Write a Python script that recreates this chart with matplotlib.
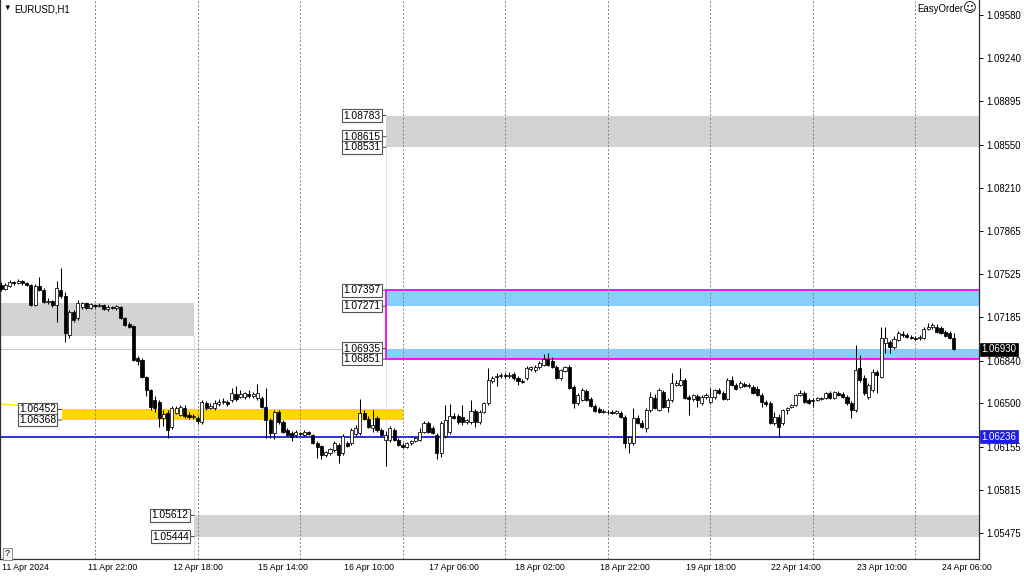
import matplotlib
matplotlib.use("Agg")
import matplotlib.pyplot as plt
import matplotlib.transforms as mtransforms
from matplotlib.patches import Rectangle

# EURUSD H1 bars, 11 Apr 2024 02:00 ... 24 Apr 2024 09:00 (one entry per bar)
opens = [
    1.07439, 1.07407, 1.07431, 1.07463, 1.07455, 1.07471, 1.07455, 1.07439, 1.07280, 1.07431,
    1.07399, 1.07304, 1.07312, 1.07280, 1.07399, 1.07352, 1.07042, 1.07225, 1.07177, 1.07264,
    1.07296, 1.07257, 1.07280, 1.07272, 1.07280, 1.07249, 1.07264, 1.07257, 1.07264, 1.07177,
    1.07130, 1.07114, 1.06860, 1.06844, 1.06709, 1.06606, 1.06527, 1.06511, 1.06384, 1.06424,
    1.06313, 1.06424, 1.06408, 1.06464, 1.06408, 1.06392, 1.06384, 1.06352, 1.06503, 1.06464,
    1.06464, 1.06495, 1.06511, 1.06511, 1.06527, 1.06575, 1.06551, 1.06551, 1.06575, 1.06559,
    1.06543, 1.06543, 1.06471, 1.06368, 1.06265, 1.06432, 1.06352, 1.06289, 1.06265, 1.06249,
    1.06265, 1.06249, 1.06273, 1.06249, 1.06186, 1.06162, 1.06091, 1.06107, 1.06130, 1.06170,
    1.06107, 1.06186, 1.06186, 1.06257, 1.06265, 1.06424, 1.06376, 1.06305, 1.06384, 1.06289,
    1.06210, 1.06210, 1.06289, 1.06210, 1.06170, 1.06154, 1.06186, 1.06202, 1.06210, 1.06273,
    1.06345, 1.06305, 1.06249, 1.06107, 1.06241, 1.06273, 1.06400, 1.06400, 1.06392, 1.06352,
    1.06352, 1.06440, 1.06352, 1.06432, 1.06503, 1.06678, 1.06709, 1.06717, 1.06725, 1.06717,
    1.06733, 1.06701, 1.06678, 1.06701, 1.06773, 1.06765, 1.06789, 1.06805, 1.06852, 1.06836,
    1.06789, 1.06701, 1.06757, 1.06789, 1.06630, 1.06503, 1.06527, 1.06598, 1.06535, 1.06479,
    1.06456, 1.06440, 1.06432, 1.06432, 1.06424, 1.06424, 1.06392, 1.06186, 1.06186, 1.06384,
    1.06345, 1.06305, 1.06448, 1.06543, 1.06448, 1.06590, 1.06471, 1.06527, 1.06646, 1.06646,
    1.06686, 1.06551, 1.06535, 1.06559, 1.06503, 1.06551, 1.06511, 1.06551, 1.06606, 1.06583,
    1.06535, 1.06686, 1.06646, 1.06630, 1.06654, 1.06638, 1.06630, 1.06614, 1.06567, 1.06511,
    1.06503, 1.06345, 1.06392, 1.06345, 1.06448, 1.06471, 1.06487, 1.06567, 1.06583, 1.06527,
    1.06527, 1.06527, 1.06535, 1.06543, 1.06583, 1.06543, 1.06583, 1.06575, 1.06551, 1.06503,
    1.06448, 1.06781, 1.06701, 1.06551, 1.06606, 1.06749, 1.06709, 1.06979, 1.06987, 1.06947,
    1.07003, 1.07050, 1.07042, 1.07027, 1.07019, 1.07019,
    1.07019, 1.07090, 1.07106, 1.07106, 1.07098, 1.07066, 1.07058, 1.07019,
]
highs = [
    1.07463, 1.07455, 1.07479, 1.07471, 1.07487, 1.07479, 1.07463, 1.07447, 1.07447, 1.07502,
    1.07415, 1.07336, 1.07320, 1.07471, 1.07574, 1.07383, 1.07241, 1.07241, 1.07320, 1.07304,
    1.07304, 1.07296, 1.07288, 1.07296, 1.07288, 1.07280, 1.07272, 1.07280, 1.07272, 1.07185,
    1.07146, 1.07122, 1.06876, 1.06860, 1.06717, 1.06614, 1.06559, 1.06527, 1.06448, 1.06448,
    1.06479, 1.06479, 1.06487, 1.06487, 1.06432, 1.06416, 1.06400, 1.06527, 1.06519, 1.06503,
    1.06527, 1.06535, 1.06543, 1.06527, 1.06622, 1.06638, 1.06606, 1.06590, 1.06606, 1.06590,
    1.06654, 1.06559, 1.06622, 1.06384, 1.06448, 1.06448, 1.06368, 1.06305, 1.06281, 1.06289,
    1.06273, 1.06289, 1.06281, 1.06257, 1.06202, 1.06170, 1.06123, 1.06146, 1.06202, 1.06186,
    1.06257, 1.06202, 1.06305, 1.06329, 1.06535, 1.06448, 1.06400, 1.06448, 1.06400, 1.06305,
    1.06281, 1.06321, 1.06305, 1.06226, 1.06186, 1.06194, 1.06210, 1.06234, 1.06305, 1.06360,
    1.06360, 1.06321, 1.06265, 1.06360, 1.06487, 1.06495, 1.06424, 1.06416, 1.06487, 1.06376,
    1.06527, 1.06456, 1.06448, 1.06511, 1.06781, 1.06717, 1.06741, 1.06741, 1.06741, 1.06749,
    1.06749, 1.06717, 1.06694, 1.06797, 1.06797, 1.06805, 1.06836, 1.06892, 1.06900, 1.06868,
    1.06805, 1.06773, 1.06797, 1.06805, 1.06646, 1.06583, 1.06622, 1.06614, 1.06551, 1.06495,
    1.06471, 1.06456, 1.06448, 1.06448, 1.06448, 1.06440, 1.06408, 1.06241, 1.06464, 1.06408,
    1.06368, 1.06464, 1.06590, 1.06575, 1.06622, 1.06606, 1.06543, 1.06741, 1.06686, 1.06781,
    1.06701, 1.06567, 1.06575, 1.06575, 1.06567, 1.06583, 1.06622, 1.06614, 1.06622, 1.06598,
    1.06701, 1.06717, 1.06662, 1.06678, 1.06670, 1.06662, 1.06646, 1.06638, 1.06583, 1.06527,
    1.06519, 1.06432, 1.06416, 1.06456, 1.06471, 1.06495, 1.06575, 1.06606, 1.06598, 1.06543,
    1.06543, 1.06551, 1.06551, 1.06590, 1.06598, 1.06598, 1.06598, 1.06590, 1.06567, 1.06519,
    1.06963, 1.06884, 1.06725, 1.06662, 1.06773, 1.06765, 1.07106, 1.07106, 1.07003, 1.07034,
    1.07074, 1.07074, 1.07058, 1.07042, 1.07034, 1.07042,
    1.07106, 1.07138, 1.07138, 1.07130, 1.07114, 1.07082, 1.07074, 1.07058,
]
lows = [
    1.07391, 1.07399, 1.07423, 1.07439, 1.07447, 1.07439, 1.07431, 1.07272, 1.07272, 1.07391,
    1.07296, 1.07288, 1.07264, 1.07146, 1.07336, 1.06987, 1.07019, 1.07146, 1.07161, 1.07249,
    1.07249, 1.07249, 1.07257, 1.07264, 1.07241, 1.07233, 1.07249, 1.07241, 1.07169, 1.07114,
    1.07098, 1.06836, 1.06805, 1.06701, 1.06559, 1.06448, 1.06432, 1.06313, 1.06321, 1.06226,
    1.06297, 1.06416, 1.06400, 1.06384, 1.06376, 1.06376, 1.06337, 1.06337, 1.06448, 1.06456,
    1.06448, 1.06479, 1.06495, 1.06479, 1.06511, 1.06519, 1.06543, 1.06535, 1.06543, 1.06543,
    1.06527, 1.06464, 1.06226, 1.06226, 1.06218, 1.06337, 1.06265, 1.06241, 1.06202, 1.06234,
    1.06241, 1.06241, 1.06249, 1.06178, 1.06067, 1.06059, 1.06075, 1.06091, 1.06115, 1.06027,
    1.06091, 1.06154, 1.06170, 1.06241, 1.06249, 1.06368, 1.06305, 1.06273, 1.06273, 1.06241,
    1.06004, 1.06194, 1.06202, 1.06162, 1.06146, 1.06146, 1.06170, 1.06194, 1.06202, 1.06265,
    1.06265, 1.06257, 1.06059, 1.06075, 1.06226, 1.06257, 1.06376, 1.06337, 1.06329, 1.06337,
    1.06337, 1.06313, 1.06337, 1.06424, 1.06487, 1.06662, 1.06638, 1.06701, 1.06701, 1.06701,
    1.06686, 1.06646, 1.06662, 1.06686, 1.06757, 1.06749, 1.06773, 1.06797, 1.06797, 1.06781,
    1.06694, 1.06686, 1.06749, 1.06614, 1.06464, 1.06487, 1.06519, 1.06519, 1.06471, 1.06432,
    1.06424, 1.06424, 1.06416, 1.06416, 1.06416, 1.06384, 1.06146, 1.06107, 1.06170, 1.06337,
    1.06305, 1.06273, 1.06432, 1.06456, 1.06440, 1.06464, 1.06432, 1.06511, 1.06638, 1.06638,
    1.06535, 1.06408, 1.06519, 1.06471, 1.06487, 1.06535, 1.06495, 1.06535, 1.06575, 1.06527,
    1.06527, 1.06638, 1.06606, 1.06622, 1.06630, 1.06622, 1.06575, 1.06559, 1.06471, 1.06479,
    1.06337, 1.06329, 1.06234, 1.06329, 1.06416, 1.06464, 1.06479, 1.06559, 1.06503, 1.06495,
    1.06471, 1.06519, 1.06527, 1.06535, 1.06535, 1.06535, 1.06559, 1.06543, 1.06487, 1.06384,
    1.06432, 1.06670, 1.06567, 1.06535, 1.06590, 1.06583, 1.06701, 1.06900, 1.06900, 1.06931,
    1.06995, 1.07027, 1.07019, 1.07011, 1.07003, 1.07003,
    1.07011, 1.07082, 1.07090, 1.07058, 1.07050, 1.07027, 1.07011, 1.06923,
]
closes = [
    1.07407, 1.07439, 1.07463, 1.07455, 1.07471, 1.07455, 1.07439, 1.07280, 1.07431, 1.07399,
    1.07304, 1.07312, 1.07280, 1.07415, 1.07352, 1.07058, 1.07225, 1.07161, 1.07296, 1.07296,
    1.07257, 1.07288, 1.07272, 1.07280, 1.07249, 1.07264, 1.07257, 1.07272, 1.07177, 1.07122,
    1.07106, 1.06844, 1.06836, 1.06709, 1.06606, 1.06471, 1.06464, 1.06384, 1.06416, 1.06289,
    1.06464, 1.06464, 1.06471, 1.06400, 1.06392, 1.06400, 1.06360, 1.06511, 1.06464, 1.06479,
    1.06503, 1.06511, 1.06519, 1.06495, 1.06583, 1.06535, 1.06575, 1.06583, 1.06559, 1.06575,
    1.06583, 1.06471, 1.06368, 1.06265, 1.06432, 1.06352, 1.06273, 1.06249, 1.06234, 1.06273,
    1.06257, 1.06273, 1.06257, 1.06186, 1.06154, 1.06091, 1.06115, 1.06138, 1.06186, 1.06091,
    1.06241, 1.06162, 1.06289, 1.06305, 1.06424, 1.06376, 1.06313, 1.06329, 1.06289, 1.06249,
    1.06249, 1.06305, 1.06210, 1.06170, 1.06154, 1.06186, 1.06202, 1.06226, 1.06273, 1.06345,
    1.06273, 1.06265, 1.06107, 1.06345, 1.06368, 1.06400, 1.06384, 1.06352, 1.06352, 1.06368,
    1.06440, 1.06352, 1.06432, 1.06503, 1.06686, 1.06701, 1.06717, 1.06725, 1.06717, 1.06725,
    1.06701, 1.06678, 1.06670, 1.06781, 1.06789, 1.06789, 1.06820, 1.06852, 1.06805, 1.06789,
    1.06701, 1.06765, 1.06789, 1.06622, 1.06503, 1.06567, 1.06606, 1.06527, 1.06479, 1.06440,
    1.06432, 1.06432, 1.06428, 1.06424, 1.06440, 1.06392, 1.06186, 1.06234, 1.06384, 1.06345,
    1.06313, 1.06448, 1.06551, 1.06464, 1.06606, 1.06471, 1.06527, 1.06662, 1.06662, 1.06686,
    1.06543, 1.06535, 1.06567, 1.06527, 1.06551, 1.06567, 1.06551, 1.06606, 1.06583, 1.06535,
    1.06686, 1.06646, 1.06614, 1.06662, 1.06638, 1.06646, 1.06583, 1.06567, 1.06511, 1.06495,
    1.06345, 1.06392, 1.06313, 1.06448, 1.06464, 1.06487, 1.06567, 1.06583, 1.06511, 1.06503,
    1.06519, 1.06543, 1.06539, 1.06583, 1.06543, 1.06590, 1.06567, 1.06551, 1.06503, 1.06448,
    1.06765, 1.06686, 1.06583, 1.06646, 1.06749, 1.06725, 1.07019, 1.07019, 1.06947, 1.07011,
    1.07058, 1.07042, 1.07027, 1.07019, 1.07011, 1.07027,
    1.07090, 1.07106, 1.07122, 1.07066, 1.07058, 1.07034, 1.07019, 1.06930,
]

price_ticks = [1.09580, 1.09240, 1.08895, 1.08550, 1.08210, 1.07865, 1.07525,
               1.07185, 1.06840, 1.06500, 1.06155, 1.05815, 1.05475]
time_labels = ["11 Apr 2024", "11 Apr 22:00", "12 Apr 18:00", "15 Apr 14:00",
               "16 Apr 10:00", "17 Apr 06:00", "18 Apr 02:00", "18 Apr 22:00",
               "19 Apr 18:00", "22 Apr 14:00", "23 Apr 10:00", "24 Apr 06:00"]
time_label_bars = [0, 20, 40, 60, 80, 100, 120, 140, 160, 180, 200, 220]
day_start_bars = [22, 46, 70, 94, 118, 142, 166, 190, 214]

# levels / zones drawn by the EasyOrder panel
bid = 1.06930
blue_level = 1.06236
top_zone = (1.08531, 1.08783)
top_zone_mid = 1.08615
upper_zone = (1.07271, 1.07397)
lower_zone = (1.06851, 1.06935)
left_zone = (1.07034, 1.07296)
yellow_zone = (1.06368, 1.06452)
bottom_zone = (1.05444, 1.05612)
zone_start_bar = 90.1    # 16 Apr 20:00
left_zone_end_bar = 45.2
yellow_start_bar = 14.2
yellow_end_bar = 94

W, H = 1024, 576
fig = plt.figure(figsize=(W / 100, H / 100), dpi=100)
fig.patch.set_facecolor("white")
ax = fig.add_axes([0 / W, (H - 559) / H, 979 / W, 559 / H])

x_left, x_right = -0.23, 228.9
ax.set_xlim(x_left, x_right)
ax.set_ylim(1.05266, 1.09699)

FONT = ["Liberation Sans", "DejaVu Sans"]

# day separators
for b in day_start_bars:
    ax.axvline(b, color="#808080", lw=0.7, ls=(0, (2, 2)), zorder=1)

# zones
def zone(x0, x1, lo, hi, color, z=0.5):
    ax.add_patch(Rectangle((x0, lo), x1 - x0, hi - lo, facecolor=color,
                           edgecolor="none", zorder=z))

zone(zone_start_bar, x_right + 5, *top_zone, "#d3d3d3")
zone(x_left - 5, left_zone_end_bar, *left_zone, "#d3d3d3")
zone(left_zone_end_bar, x_right + 5, *bottom_zone, "#d3d3d3")
zone(yellow_start_bar, yellow_end_bar, *yellow_zone, "#ffd700")
ax.plot([x_left, 4.6], [1.06495, 1.06484], color="#ffd700", lw=0.8, zorder=0.6)

# bid line and faint anchors
ax.axhline(bid, color="#c8c8c8", lw=0.8, zorder=0.4)
ax.plot([zone_start_bar, zone_start_bar], [1.0600, top_zone[0]],
        color="#cfe4f4", lw=0.8, zorder=0.45)
ax.plot([left_zone_end_bar, left_zone_end_bar], [1.05200, left_zone[0]],
        color="#dcdcdc", lw=0.8, zorder=0.45)

zone(zone_start_bar, x_right + 5, *upper_zone, "#87cefa", z=0.6)
zone(zone_start_bar, x_right + 5, *lower_zone, "#87cefa", z=0.6)
ax.add_patch(Rectangle((zone_start_bar, lower_zone[0]), x_right + 5 - zone_start_bar,
                       upper_zone[1] - lower_zone[0], facecolor="none",
                       edgecolor="#ff00ff", lw=1.3, zorder=0.7))

ax.axhline(blue_level, color="#1c1ce6", lw=1.3, zorder=0.8)

# candles
bars = list(range(len(closes)))
ax.vlines(bars, lows, highs, color="black", lw=0.75, zorder=3)
for i in bars:
    o, c = opens[i], closes[i]
    up = c >= o
    lo = min(o, c)
    h = max(abs(c - o), 0.000012)
    ax.add_patch(Rectangle((i - 0.36, lo), 0.72, h,
                           facecolor="white" if up else "black",
                           edgecolor="black", lw=0.55, zorder=4))

# level labels
def level_label(price, bar):
    ax.annotate(f"{price:.5f}", xy=(bar, price), xytext=(-4.0, 0),
                textcoords="offset points", ha="right", va="center",
                fontsize=7.4, family=FONT, color="black", zorder=6,
                bbox=dict(boxstyle="square,pad=0.12", fc="white", ec="#555555", lw=0.8),
                arrowprops=dict(arrowstyle="-", color="#555555", lw=0.8,
                                shrinkA=0, shrinkB=0))

for p in (top_zone[1], top_zone_mid, top_zone[0], upper_zone[1], upper_zone[0],
          lower_zone[1], lower_zone[0]):
    level_label(p, zone_start_bar)
for p in (yellow_zone[1], yellow_zone[0]):
    level_label(p, yellow_start_bar)
for p in (bottom_zone[1], bottom_zone[0]):
    level_label(p, left_zone_end_bar)

# axes / spines
ax.spines["top"].set_visible(False)
for s in ("left", "right", "bottom"):
    ax.spines[s].set_color("#303030")
    ax.spines[s].set_linewidth(0.9)
ax.yaxis.tick_right()
ax.set_yticks(price_ticks)
ax.set_yticklabels([f"{p:.5f}" for p in price_ticks], family=FONT)
ax.tick_params(axis="y", length=3, width=0.7, pad=2, labelsize=6.9, colors="black")
ax.set_xticks([])

trans = mtransforms.blended_transform_factory(ax.transData, ax.transAxes)
for b, t in zip(time_label_bars, time_labels):
    ax.text(b + 0.25, -9 / 559, t, transform=trans, ha="left", va="center",
            fontsize=6.3, family=FONT, clip_on=False)

ytrans = mtransforms.blended_transform_factory(ax.transAxes, ax.transData)
ax.text(1.0025, bid, f"{bid:.5f}", transform=ytrans, ha="left", va="center",
        fontsize=6.9, family=FONT, color="white", zorder=10,
        bbox=dict(boxstyle="square,pad=0.15", fc="black", ec="black", lw=0.5))
ax.text(1.0025, blue_level, f"{blue_level:.5f}", transform=ytrans, ha="left", va="center",
        fontsize=6.9, family=FONT, color="white", zorder=10,
        bbox=dict(boxstyle="square,pad=0.15", fc="#1c1ce6", ec="#1c1ce6", lw=0.5))

# header texts
fig.text(3 / W, 1 - 8 / H, "▼", fontsize=5.5, family=FONT, va="center", ha="left")
fig.text(14 / W, 1 - 9 / H, "EURUSD,H1", fontsize=6.9, family=FONT, va="center", ha="left")
fig.text(963 / W, 1 - 9 / H, "EasyOrder", fontsize=6.9, family=FONT,
         va="center", ha="right")
fig.text(977 / W, 1 - 9 / H, "☺", fontsize=9.5, family=["DejaVu Sans"],
         va="center", ha="right")
fig.text(5 / W, 1 - 554 / H, "?", fontsize=6.5, family=FONT, va="center", ha="left",
         bbox=dict(boxstyle="square,pad=0.2", fc="#f4f4f4", ec="#909090", lw=0.7))

fig.savefig("out.png", dpi=100, facecolor="white")
